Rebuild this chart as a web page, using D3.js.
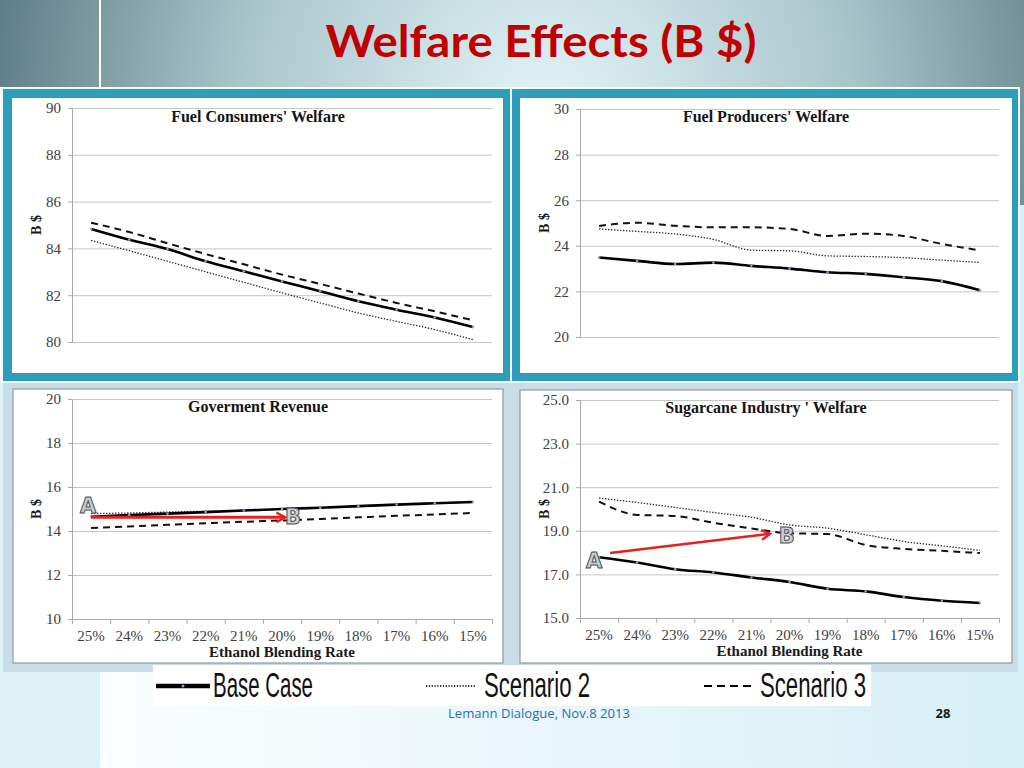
<!DOCTYPE html>
<html lang="en">
<head>
<meta charset="utf-8" />
<title>Welfare Effects (B $)</title>
<style>
  body { margin: 0; background: #fff; }
  svg { display: block; }
</style>
</head>
<body>
<script src="https://cdn.jsdelivr.net/npm/d3@7"></script>
<script>
  // Ethanol blending rate, left to right
  const categories = ["25%", "24%", "23%", "22%", "21%", "20%", "19%", "18%", "17%", "16%", "15%"];

  // Fuel consumers' welfare (B $)
  const consumersBase  = [84.83, 84.37, 83.97, 83.45, 83.02, 82.59, 82.17, 81.74, 81.38, 81.05, 80.64];
  const consumersScen2 = [84.34, 83.90, 83.45, 83.00, 82.55, 82.10, 81.67, 81.24, 80.88, 80.53, 80.10];
  const consumersScen3 = [85.10, 84.70, 84.22, 83.76, 83.32, 82.88, 82.48, 82.07, 81.67, 81.31, 80.93];

  // Fuel producers' welfare (B $)
  const producersBase  = [23.49, 23.34, 23.20, 23.26, 23.12, 23.00, 22.84, 22.77, 22.62, 22.45, 22.05];
  const producersScen2 = [24.74, 24.63, 24.52, 24.28, 23.81, 23.78, 23.56, 23.53, 23.48, 23.37, 23.27];
  const producersScen3 = [24.87, 25.01, 24.88, 24.81, 24.81, 24.74, 24.43, 24.53, 24.43, 24.08, 23.80];

  // Goverment revenue (B $)
  const revenueBase  = [14.65, 14.72, 14.79, 14.86, 14.93, 15.00, 15.06, 15.13, 15.20, 15.26, 15.32];
  const revenueScen2 = [14.79, 14.82, 14.86, 14.90, 14.94, 14.99, 15.05, 15.12, 15.19, 15.26, 15.32];
  const revenueScen3 = [14.14, 14.21, 14.28, 14.35, 14.42, 14.48, 14.55, 14.62, 14.69, 14.75, 14.82];

  // Sugarcane industry welfare (B $)
  const sugarBase  = [17.79, 17.55, 17.24, 17.09, 16.86, 16.65, 16.34, 16.22, 15.96, 15.79, 15.69];
  const sugarScen2 = [20.50, 20.30, 20.07, 19.84, 19.62, 19.27, 19.12, 18.82, 18.51, 18.31, 18.10];
  const sugarScen3 = [20.34, 19.73, 19.68, 19.37, 19.11, 18.89, 18.85, 18.35, 18.17, 18.08, 17.98];

  // y tick values per chart
  const consumersTicks = [80, 82, 84, 86, 88, 90];
  const producersTicks = [20, 22, 24, 26, 28, 30];
  const revenueTicks   = [10, 12, 14, 16, 18, 20];
  const sugarTicks     = [15, 17, 19, 21, 23, 25];

  // A -> B annotations: [category index, value]
  const revenueArrow = [[0, 14.62], [5.08, 14.62]];
  const revenueLabels = [["A", -0.08, 15.14], ["B", 5.29, 14.68]];
  const sugarArrow = [[0.29, 17.98], [4.49, 18.86]];
  const sugarLabels = [["A", -0.13, 17.66], ["B", 4.93, 18.81]];

  const legendNames = ["Base Case", "Scenario 2", "Scenario 3"];

  const serif = "'Liberation Serif', 'DejaVu Serif', serif";

  const svg = d3.select("body").append("svg")
      .attr("width", 1024)
      .attr("height", 768);

  const defs = svg.append("defs");

  let topGrad = defs.append("radialGradient")
      .attr("id", "topGrad")
      .attr("gradientUnits", "userSpaceOnUse")
      .attr("cx", 545).attr("cy", 110).attr("r", 560);
  topGrad.append("stop").attr("offset", 0).attr("stop-color", "#e2f5f8");
  topGrad.append("stop").attr("offset", 0.55).attr("stop-color", "#a9c5cc");
  topGrad.append("stop").attr("offset", 1).attr("stop-color", "#5e7c86");

  let lowGrad = defs.append("linearGradient")
      .attr("id", "lowGrad")
      .attr("x1", 0).attr("x2", 1).attr("y1", 0).attr("y2", 0);
  lowGrad.append("stop").attr("offset", 0).attr("stop-color", "#ffffff");
  lowGrad.append("stop").attr("offset", 1).attr("stop-color", "#d6eff6");

  defs.append("marker")
      .attr("id", "arrowRed")
      .attr("viewBox", "0 0 12 12")
      .attr("refX", 10).attr("refY", 6)
      .attr("markerUnits", "userSpaceOnUse")
      .attr("markerWidth", 13).attr("markerHeight", 13)
      .attr("orient", "auto")
    .append("path")
      .attr("d", "M2,1.5 L10,6 L2,10.5")
      .attr("fill", "none")
      .attr("stroke", "#e8201a")
      .attr("stroke-width", 2.2);

  // slide background
  svg.append("rect").attr("x", 0).attr("y", 0).attr("width", 1024).attr("height", 768).attr("fill", "url(#lowGrad)");
  svg.append("rect").attr("x", 0).attr("y", 205).attr("width", 100).attr("height", 563).attr("fill", "#dcf2f7");
  svg.append("rect").attr("x", 0).attr("y", 0).attr("width", 1024).attr("height", 205).attr("fill", "url(#topGrad)");
  svg.append("rect").attr("x", 99).attr("y", 0).attr("width", 2).attr("height", 89).attr("fill", "#ffffff");
  svg.append("rect").attr("x", 0).attr("y", 87).attr("width", 1020).attr("height", 296).attr("fill", "#f4fbfd");

  // slide title
  svg.append("text")
      .attr("x", 541).attr("y", 57)
      .attr("text-anchor", "middle")
      .attr("font-family", "Lato, 'Open Sans', sans-serif")
      .attr("font-weight", "bold")
      .attr("font-size", 43)
      .attr("fill", "#c00000")
      .attr("textLength", 431)
      .attr("lengthAdjust", "spacingAndGlyphs")
      .text("Welfare Effects (B $)");

  // panel frames
  svg.append("rect").attr("x", 3).attr("y", 89).attr("width", 507).attr("height", 292).attr("fill", "#2c9dbb");
  svg.append("rect").attr("x", 512).attr("y", 89).attr("width", 506).attr("height", 292).attr("fill", "#2c9dbb");
  svg.append("rect").attr("x", 3).attr("y", 383).attr("width", 1015).attr("height", 289).attr("fill", "#c8dde7");

  const panels = [
    {title: "Fuel Consumers' Welfare", series: [consumersBase, consumersScen2, consumersScen3], ticks: consumersTicks,
     fmt: d3.format("d"), inner: [12, 98, 491, 275], border: null, l: 72, r: 492, t: 108, b: 342, tx: 258, ty: 122, xAxis: false},
    {title: "Fuel Producers' Welfare", series: [producersBase, producersScen2, producersScen3], ticks: producersTicks,
     fmt: d3.format("d"), inner: [520, 98, 492, 275], border: null, l: 580, r: 999, t: 109, b: 337, tx: 766, ty: 122, xAxis: false},
    {title: "Goverment Revenue", series: [revenueBase, revenueScen2, revenueScen3], ticks: revenueTicks,
     fmt: d3.format("d"), inner: [13, 389, 490, 274], border: "#8c9aa2", l: 72, r: 492, t: 399, b: 619, tx: 258, ty: 412, xAxis: true,
     arrow: revenueArrow, labels: revenueLabels, arrowWidth: 3},
    {title: "Sugarcane Industry ' Welfare", series: [sugarBase, sugarScen2, sugarScen3], ticks: sugarTicks,
     fmt: d3.format(".1f"), inner: [520, 390, 492, 273], border: "#8c9aa2", l: 580, r: 999, t: 400, b: 618, tx: 766, ty: 413, xAxis: true,
     arrow: sugarArrow, labels: sugarLabels, arrowWidth: 2.5},
  ];

  function drawPanel(p) {
    let g = svg.append("g");

    g.append("rect")
        .attr("x", p.inner[0]).attr("y", p.inner[1])
        .attr("width", p.inner[2]).attr("height", p.inner[3])
        .attr("fill", "#ffffff")
        .attr("stroke", p.border || "none")
        .attr("stroke-width", 1.2);

    let x = d3.scaleBand(categories, [p.l, p.r]);
    let half = x.bandwidth() / 2;
    // category index -> pixel (band centres)
    let xi = d3.scaleLinear([0, categories.length - 1],
        [x(categories[0]) + half, x(categories[categories.length - 1]) + half]);
    let y = d3.scaleLinear([p.ticks[0], p.ticks[p.ticks.length - 1]], [p.b, p.t]);

    // gridlines
    g.append("g")
        .attr("transform", `translate(${p.l},0)`)
        .call(d3.axisLeft(y).tickValues(p.ticks).tickSize(-(p.r - p.l)).tickFormat(""))
        .call(s => {
          s.select(".domain").remove();
          s.selectAll("line").attr("stroke", "#c6c6c6").attr("stroke-width", 1);
        });

    // y axis
    g.append("g")
        .attr("transform", `translate(${p.l},0)`)
        .call(d3.axisLeft(y).tickValues(p.ticks).tickSize(4).tickSizeOuter(0).tickPadding(7).tickFormat(p.fmt))
        .call(s => {
          s.select(".domain").attr("stroke", "#a9a9a9");
          s.selectAll(".tick line").attr("stroke", "#a9a9a9");
          s.selectAll("text")
              .attr("font-family", serif)
              .attr("font-size", 15)
              .attr("fill", "#404040");
        });

    if (p.xAxis) {
      let bounds = d3.scaleLinear([0, categories.length], [p.l, p.r]);
      g.append("g")
          .attr("transform", `translate(0,${p.b})`)
          .call(d3.axisBottom(bounds).tickValues(d3.range(categories.length + 1)).tickSize(5).tickSizeOuter(0).tickFormat(""))
          .call(s => {
            s.select(".domain").attr("stroke", "#a9a9a9");
            s.selectAll("line").attr("stroke", "#a9a9a9");
          });
      g.append("g")
          .attr("transform", `translate(0,${p.b})`)
          .call(d3.axisBottom(x).tickSize(0).tickPadding(11))
          .call(s => {
            s.select(".domain").remove();
            s.selectAll("text")
                .attr("font-family", serif)
                .attr("font-size", 15)
                .attr("fill", "#404040");
          });
      g.append("text")
          .attr("x", (p.l + p.r) / 2)
          .attr("y", p.b + 38)
          .attr("text-anchor", "middle")
          .attr("font-family", serif)
          .attr("font-weight", "bold")
          .attr("font-size", 15)
          .attr("fill", "#1a1a1a")
          .text("Ethanol Blending Rate");
    }

    g.append("text")
        .attr("transform", `translate(${p.l - 31},${(p.t + p.b) / 2}) rotate(-90)`)
        .attr("text-anchor", "middle")
        .attr("font-family", serif)
        .attr("font-weight", "bold")
        .attr("font-size", 14)
        .attr("fill", "#1a1a1a")
        .text("B $");

    g.append("text")
        .attr("x", p.tx).attr("y", p.ty)
        .attr("text-anchor", "middle")
        .attr("font-family", serif)
        .attr("font-weight", "bold")
        .attr("font-size", 16)
        .attr("fill", "#141414")
        .text(p.title);

    let line = d3.line()
        .x((d, i) => xi(i))
        .y(d => y(d))
        .curve(d3.curveMonotoneX);

    // Scenario 2 (dotted), Scenario 3 (dashed), then base case on top
    g.append("path")
        .attr("d", line(p.series[1]))
        .attr("fill", "none")
        .attr("stroke", "#2a2a2a")
        .attr("stroke-width", 1.3)
        .attr("stroke-dasharray", "1.4,1.6");
    g.append("path")
        .attr("d", line(p.series[2]))
        .attr("fill", "none")
        .attr("stroke", "#111111")
        .attr("stroke-width", 2)
        .attr("stroke-dasharray", "7,5");
    g.append("path")
        .attr("d", line(p.series[0]))
        .attr("fill", "none")
        .attr("stroke", "#000000")
        .attr("stroke-width", 2.6);
    g.append("g")
        .selectAll("circle")
        .data(p.series[0])
        .join("circle")
        .attr("cx", (d, i) => xi(i))
        .attr("cy", d => y(d))
        .attr("r", 1.3)
        .attr("fill", "#7ea3cf");

    if (p.arrow) {
      g.append("line")
          .attr("x1", xi(p.arrow[0][0])).attr("y1", y(p.arrow[0][1]))
          .attr("x2", xi(p.arrow[1][0])).attr("y2", y(p.arrow[1][1]))
          .attr("stroke", "#e8201a")
          .attr("stroke-width", p.arrowWidth)
          .attr("marker-end", "url(#arrowRed)");
      g.append("g")
          .selectAll("text")
          .data(p.labels)
          .join("text")
          .attr("x", d => xi(d[1]))
          .attr("y", d => y(d[2]))
          .attr("dy", "0.36em")
          .attr("text-anchor", "middle")
          .attr("font-family", "'DejaVu Sans', sans-serif")
          .attr("font-weight", "bold")
          .attr("font-size", 21)
          .attr("fill", "#c9d0d4")
          .attr("stroke", "#44525a")
          .attr("stroke-width", 1)
          .text(d => d[0]);
    }
  }

  panels.forEach(drawPanel);

  // legend
  let legend = svg.append("g");
  legend.append("rect")
      .attr("x", 153).attr("y", 665)
      .attr("width", 718).attr("height", 41)
      .attr("fill", "#ffffff");

  const legendX = [156, 426, 704];
  const legendTextX = [213, 484, 760];
  const legendDash = [null, "1.3,1.5", "8,5"];
  const legendWidth = [4.5, 1.4, 2.2];
  const legendLen = [54, 50, 50];

  legendNames.forEach((name, i) => {
    legend.append("line")
        .attr("x1", legendX[i]).attr("x2", legendX[i] + legendLen[i])
        .attr("y1", 686).attr("y2", 686)
        .attr("stroke", "#000000")
        .attr("stroke-width", legendWidth[i])
        .attr("stroke-dasharray", legendDash[i]);
    legend.append("text")
        .attr("x", legendTextX[i]).attr("y", 697)
        .attr("font-family", "'Liberation Sans Narrow', 'Liberation Sans', sans-serif")
        .attr("font-size", 35)
        .attr("fill", "#111111")
        .attr("textLength", i == 0 ? 100 : 106)
        .attr("lengthAdjust", "spacingAndGlyphs")
        .text(name);
  });
  legend.append("circle")
      .attr("cx", 183).attr("cy", 686).attr("r", 1.5)
      .attr("fill", "#7ea3cf");

  // footer
  svg.append("text")
      .attr("x", 539).attr("y", 718)
      .attr("text-anchor", "middle")
      .attr("font-family", "'Open Sans', sans-serif")
      .attr("font-size", 12)
      .attr("fill", "#2a6cb0")
      .attr("textLength", 182)
      .attr("lengthAdjust", "spacingAndGlyphs")
      .text("Lemann Dialogue, Nov.8 2013");
  svg.append("text")
      .attr("x", 943).attr("y", 718)
      .attr("text-anchor", "middle")
      .attr("font-family", "'Open Sans', sans-serif")
      .attr("font-weight", "bold")
      .attr("font-size", 13)
      .attr("fill", "#1a1a1a")
      .text("28");
</script>
</body>
</html>
